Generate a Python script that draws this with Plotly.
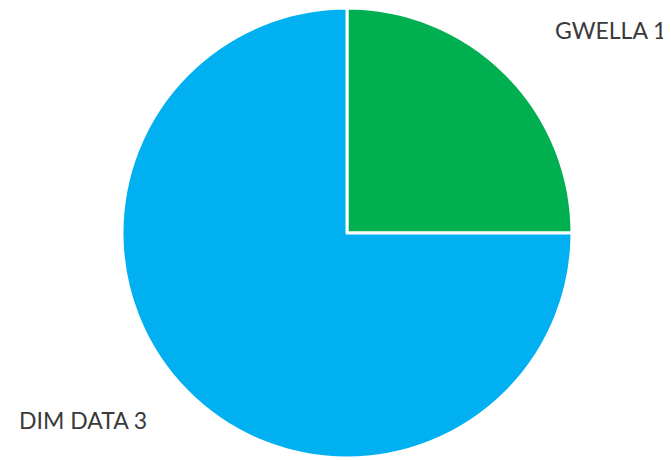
import plotly.graph_objects as go

labels = ["GWELLA", "DIM DATA"]
values = [1, 3]
colors = ["#00AF50", "#00B0F0"]

label_text = [f"{l} {v}" for l, v in zip(labels, values)]
# paper positions of the outside labels (page has an 8px body margin)
label_pos = [(0.8972, 0.9528), (0.1125, 0.1043)]

fig = go.Figure(
    go.Pie(
        labels=labels,
        values=values,
        sort=False,
        direction="clockwise",
        rotation=0,
        marker=dict(colors=colors, line=dict(color="white", width=3)),
        textinfo="none",
        hoverinfo="label+value",
        showlegend=False,
        domain=dict(x=[0.1699, 0.8405], y=[0.0217, 1.0]),
    )
)

for t, (x, y) in zip(label_text, label_pos):
    fig.add_annotation(
        text=t, x=x, y=y, xref="paper", yref="paper",
        showarrow=False, xanchor="center", yanchor="middle",
        font=dict(family="Lato", size=23, color="#3a3a3a"),
    )

fig.update_layout(
    width=671, height=460,
    margin=dict(l=0, r=0, t=0, b=0),
    paper_bgcolor="white", plot_bgcolor="white",
)

fig.write_html("out.html")
